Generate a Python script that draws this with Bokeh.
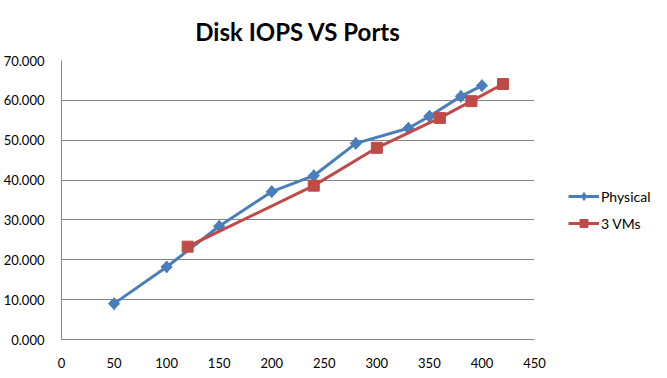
from bokeh.plotting import figure
from bokeh.models import Range1d, FixedTicker, NumeralTickFormatter, Legend, LegendItem
from bokeh.embed import file_html
from bokeh.resources import INLINE

# Data
title_text = "Disk IOPS VS Ports"
physical_x = [50, 100, 150, 200, 240, 280, 330, 350, 380, 400]
physical_y = [9.0, 18.2, 28.4, 37.1, 41.1, 49.2, 53.0, 56.0, 61.0, 63.7]
vms_x = [120, 240, 300, 360, 390, 420]
vms_y = [23.3, 38.6, 48.1, 55.6, 59.8, 64.1]
series_names = ["Physical", "3 VMs"]
x_ticks = [0, 50, 100, 150, 200, 250, 300, 350, 400, 450]
y_ticks = [0, 10, 20, 30, 40, 50, 60, 70]

BLUE = "#4A7EBB"
RED = "#BE4B48"
GRID = "#868686"
FONT = "Lato"
DIAMOND_ANGLE = 0.7853981633974483  # 45 degrees, turns a square marker into a diamond

p = figure(
    output_backend="svg", toolbar_location=None,
    frame_width=473, frame_height=279,
    min_border_left=60, min_border_right=122, min_border_top=60, min_border_bottom=30,
    x_range=Range1d(0, 450), y_range=Range1d(0, 70),
    title=title_text,
)
p.outline_line_color = None
p.background_fill_color = "white"
p.border_fill_color = "white"

p.title.align = "center"
p.title.text_font = FONT
p.title.text_font_style = "bold"
p.title.text_font_size = "24px"
p.title.text_color = "black"
p.title.standoff = 29

p.xaxis.ticker = FixedTicker(ticks=x_ticks)
p.yaxis.ticker = FixedTicker(ticks=y_ticks)
p.yaxis.formatter = NumeralTickFormatter(format="0.000")
for ax in (p.xaxis, p.yaxis):
    ax.axis_line_color = GRID
    ax.major_tick_line_color = None
    ax.minor_tick_line_color = None
    ax.major_label_text_font = FONT
    ax.major_label_text_font_size = "13px"
    ax.major_label_text_color = "black"
p.yaxis.major_label_standoff = 11
p.xaxis.major_label_standoff = 12

p.xgrid.grid_line_color = None
p.ygrid.grid_line_color = GRID
p.ygrid.grid_line_width = 1

l1 = p.line(physical_x, physical_y, line_color=BLUE, line_width=3)
m1a = p.scatter(physical_x, physical_y, marker="square", size=8, angle=DIAMOND_ANGLE,
                fill_color=BLUE, line_color=BLUE)
m1 = p.scatter(physical_x, physical_y, marker="diamond", size=12,
               fill_color=BLUE, line_color=BLUE)
l2 = p.line(vms_x, vms_y, line_color=RED, line_width=3)
m2 = p.scatter(vms_x, vms_y, marker="square", size=11, fill_color=RED, line_color=RED)

legend = Legend(items=[
    LegendItem(label=series_names[0], renderers=[l1, m1]),
    LegendItem(label=series_names[1], renderers=[l2, m2]),
], location=(34, 106))
legend.border_line_color = None
legend.background_fill_alpha = 0
legend.glyph_width = 31
legend.glyph_height = 20
legend.label_standoff = 2
legend.spacing = 7
legend.label_text_font = FONT
legend.label_text_font_size = "14px"
legend.label_text_color = "black"
legend.margin = 0
legend.padding = 0
p.add_layout(legend, "right")

open("out.html", "w").write(file_html(p, INLINE))
